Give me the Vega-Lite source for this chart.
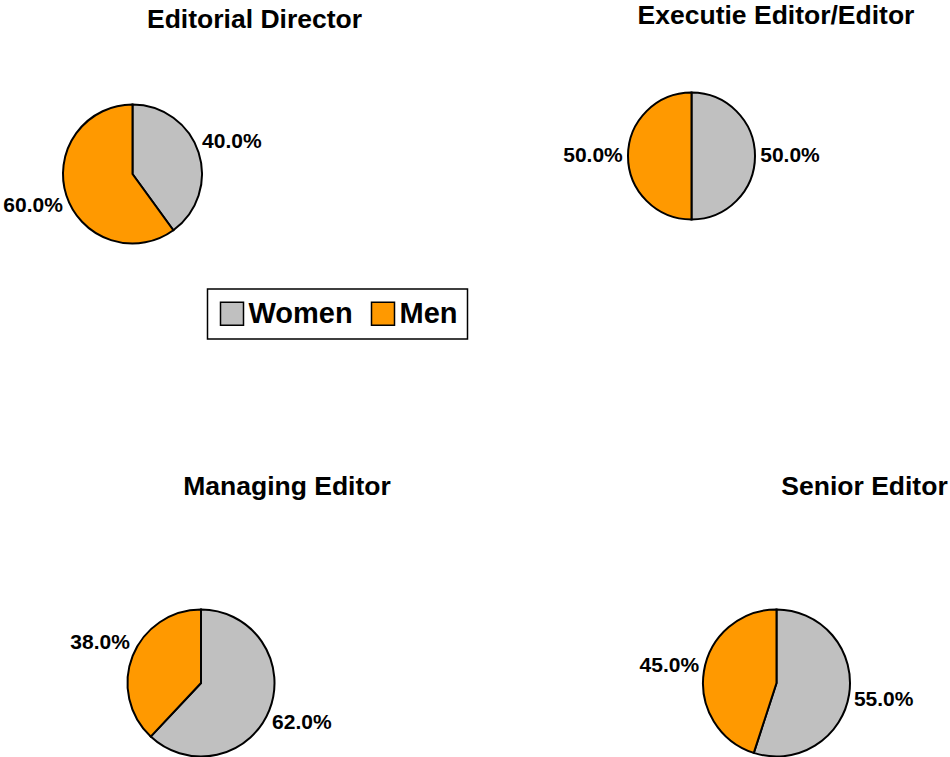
{
  "$schema": "https://vega.github.io/schema/vega-lite/v6.json",
  "padding": {"left": 0, "top": 2, "right": 0, "bottom": 0},
  "background": "white",
  "data": {
    "values": [
      {"role": "Editorial Director", "gender": "Women", "share": 0.40},
      {"role": "Editorial Director", "gender": "Men", "share": 0.60},
      {"role": "Executie Editor/Editor", "gender": "Women", "share": 0.50},
      {"role": "Executie Editor/Editor", "gender": "Men", "share": 0.50},
      {"role": "Managing Editor", "gender": "Women", "share": 0.62},
      {"role": "Managing Editor", "gender": "Men", "share": 0.38},
      {"role": "Senior Editor", "gender": "Women", "share": 0.55},
      {"role": "Senior Editor", "gender": "Men", "share": 0.45}
    ]
  },
  "columns": 2,
  "align": "each",
  "bounds": "flush",
  "spacing": {"row": 301, "column": 201},
  "concat": [
    {
      "width": 265, "height": 266,
      "title": {"text": "Editorial Director", "dx": 122, "offset": 8},
      "transform": [{"filter": {"field": "role", "equal": "Editorial Director"}}],
      "encoding": {
        "theta": {"field": "share", "type": "quantitative", "stack": true},
        "order": {"field": "gender", "sort": "descending"}
      },
      "layer": [
        {"mark": {"type": "arc", "outerRadius": 69.5, "stroke": "black", "strokeWidth": 2},
         "encoding": {"color": {"field": "gender", "type": "nominal", "title": null, "scale": {"domain": ["Women", "Men"], "range": ["#C0C0C0", "#FF9900"]}}}},
        {"mark": {"type": "text", "radius": 104.5, "fontSize": 21, "fontWeight": "bold", "font": "Liberation Sans", "color": "black"},
         "encoding": {"text": {"field": "share", "type": "quantitative", "format": ".1%"}}}
      ]
    },
    {
      "width": 177, "height": 230,
      "title": {"text": "Executie Editor/Editor", "dx": 84.5, "offset": 12},
      "transform": [{"filter": {"field": "role", "equal": "Executie Editor/Editor"}}],
      "encoding": {
        "theta": {"field": "share", "type": "quantitative", "stack": true},
        "order": {"field": "gender", "sort": "descending"}
      },
      "layer": [
        {"mark": {"type": "arc", "outerRadius": 63.5, "stroke": "black", "strokeWidth": 2},
         "encoding": {"color": {"field": "gender", "type": "nominal", "title": null, "scale": {"domain": ["Women", "Men"], "range": ["#C0C0C0", "#FF9900"]}}}},
        {"mark": {"type": "text", "radius": 98.5, "fontSize": 21, "fontWeight": "bold", "font": "Liberation Sans", "color": "black"},
         "encoding": {"text": {"field": "share", "type": "quantitative", "format": ".1%"}}}
      ]
    },
    {
      "width": 402, "height": 150,
      "title": {"text": "Managing Editor", "dx": 86, "offset": 105},
      "transform": [{"filter": {"field": "role", "equal": "Managing Editor"}}],
      "encoding": {
        "theta": {"field": "share", "type": "quantitative", "stack": true},
        "order": {"field": "gender", "sort": "descending"}
      },
      "layer": [
        {"mark": {"type": "arc", "outerRadius": 73.5, "stroke": "black", "strokeWidth": 2},
         "encoding": {"color": {"field": "gender", "type": "nominal", "title": null, "scale": {"domain": ["Women", "Men"], "range": ["#C0C0C0", "#FF9900"]}}}},
        {"mark": {"type": "text", "radius": 108.5, "fontSize": 21, "fontWeight": "bold", "font": "Liberation Sans", "color": "black"},
         "encoding": {"text": {"field": "share", "type": "quantitative", "format": ".1%"}}}
      ]
    },
    {
      "width": 347, "height": 150,
      "title": {"text": "Senior Editor", "dx": 88, "offset": 105},
      "transform": [{"filter": {"field": "role", "equal": "Senior Editor"}}],
      "encoding": {
        "theta": {"field": "share", "type": "quantitative", "stack": true},
        "order": {"field": "gender", "sort": "descending"}
      },
      "layer": [
        {"mark": {"type": "arc", "outerRadius": 73.5, "stroke": "black", "strokeWidth": 2},
         "encoding": {"color": {"field": "gender", "type": "nominal", "title": null, "scale": {"domain": ["Women", "Men"], "range": ["#C0C0C0", "#FF9900"]}}}},
        {"mark": {"type": "text", "radius": 108.5, "fontSize": 21, "fontWeight": "bold", "font": "Liberation Sans", "color": "black"},
         "encoding": {"text": {"field": "share", "type": "quantitative", "format": ".1%"}}}
      ]
    }
  ],
  "resolve": {"scale": {"color": "shared"}},
  "config": {
    "view": {"stroke": null},
    "font": "Liberation Sans",
    "title": {"font": "Liberation Sans", "fontSize": 26.5, "fontWeight": "bold", "color": "black", "frame": "group", "anchor": "middle"},
    "legend": {
      "orient": "none",
      "legendX": 207.5,
      "legendY": 248,
      "direction": "horizontal",
      "padding": 10,
      "strokeColor": "black",
      "strokeWidth": 1.5,
      "fillColor": "white",
      "symbolType": "square",
      "symbolSize": 529,
      "symbolStrokeColor": "black",
      "symbolStrokeWidth": 1.5,
      "symbolOpacity": 1,
      "labelFont": "Liberation Sans",
      "labelFontSize": 29,
      "labelFontWeight": "bold",
      "labelColor": "black",
      "labelOffset": 2,
      "labelLimit": 400,
      "columnPadding": 15
    }
  }
}
